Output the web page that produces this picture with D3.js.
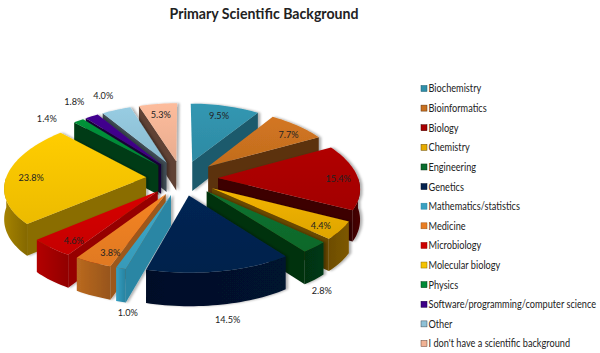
<!DOCTYPE html>
<html>
<head>
<meta charset="utf-8">
<script src="https://cdn.jsdelivr.net/npm/d3@7"></script>
<style>
  body { margin: 0; background: #fff; }
  text { font-family: Lato, "Open Sans", sans-serif; fill: #222; }
</style>
</head>
<body>
<div id="container"></div>
<script>
/* DATA */
const categories = ["Biochemistry", "Bioinformatics", "Biology", "Chemistry", "Engineering", "Genetics",
  "Mathematics/statistics", "Medicine", "Microbiology", "Molecular biology", "Physics",
  "Software/programming/computer science", "Other", "I don't have a scientific background"]
const percents = [9.5, 7.7, 15.4, 4.4, 2.8, 14.5, 1.0, 3.8, 4.6, 23.8, 1.4, 1.8, 4.0, 5.3]

/* COLOURS */
const topColors = ["#2f8fa9", "#c8701f", "#a80000", "#e6ab00", "#0a6c2d", "#04234f", "#39a0c0",
  "#e87d22", "#cc0000", "#f5c200", "#008a36", "#3f0088", "#8fc1d6", "#f0b294"]
const wallColors = ["#1c5a6c", "#5c3310", "#3c0000", "#694a00", "#003010", "#020f27", "#2a86a4",
  "#9c581b", "#960000", "#8a6d00", "#003a12", "#1b0040", "#3f4d57", "#604336"]

// where each percent label sits: fraction of the radius, then a pixel nudge
const labelRadius = [0.72, 0.78, 0.86, 0.88, 1.12, 1.16, 1.18, 0.62, 0.62, 0.82, 1.34, 1.34, 1.2, 0.7]
const labelDx = [2, 9, 0, -3, -7, 2, 17, -12, -20, -1, -9, 2, -5, -2]
const labelDy = [-5, 0, 1, 0, 36, 35, 30, 17, 15, 2, 11, 0, -5, -5]

/* LAYOUT */
const width = 600, height = 353
const cx = 182, cy = 178
const R = 140, explode = 36, depth = 30
const tilt = 0.483, perspX = 0.14, perspY = 0.094
const labelSqueeze = 0.915, legendSqueeze = 0.875 // Lato runs wider than the reference's face

const svg = d3.select('#container').append('svg')
  .attr('width', width)
  .attr('height', height)

const defs = svg.append('defs')
const shadow = defs.append('filter').attr('id', 'shadow')
  .attr('x', '-10%').attr('y', '-10%').attr('width', '125%').attr('height', '125%')
shadow.append('feDropShadow')
  .attr('dx', 2.5).attr('dy', 0).attr('stdDeviation', 1.2)
  .attr('flood-color', '#000').attr('flood-opacity', 0.3)

svg.append('text')
  .attr('x', 264)
  .attr('y', 19)
  .attr('text-anchor', 'middle')
  .attr('font-size', 16)
  .attr('font-weight', 700)
  .attr('textLength', 189)
  .attr('lengthAdjust', 'spacingAndGlyphs')
  .text('Primary Scientific Background')

/* PIE */
const slices = d3.pie().sort(null).value(d => d)(percents)
  .map((s, i) => ({ ...s, i, mid: (s.startAngle + s.endAngle) / 2 }))

// ground plane to screen. angle 0 is far away (up), clockwise
function project(slice, r, a, drop = 0) {
  const gx = explode * Math.sin(slice.mid) + r * Math.sin(a)
  const gy = -explode * Math.cos(slice.mid) - r * Math.cos(a)
  const sx = 1 + perspX * gy / R
  const sy = 1 + perspY * gy / R
  return [cx + gx * sx, cy + tilt * gy * sy + drop * sy]
}

const line = d3.line()

function arcPoints(slice, a0, a1, drop = 0) {
  const n = Math.max(2, Math.ceil((a1 - a0) / 0.03))
  return d3.range(n + 1).map(k => project(slice, R, a0 + (a1 - a0) * k / n, drop))
}

const order = slices.slice().sort((a, b) => d3.ascending(-Math.cos(a.mid), -Math.cos(b.mid)))

order.forEach(d => {
  const g = svg.append('g').attr('filter', 'url(#shadow)')
  const wall = wallColors[d.i]

  // radial walls, only when they face the viewer
  const walls = [[d.startAngle, d.startAngle - Math.PI / 2], [d.endAngle, d.endAngle + Math.PI / 2]]
  walls.forEach(([a, normal]) => {
    if (-Math.cos(normal) <= 0.001) return
    const quad = [project(d, 0, a), project(d, R, a), project(d, R, a, depth), project(d, 0, a, depth)]
    g.append('path').attr('d', line(quad) + 'Z').attr('fill', wall)
  })

  // outer wall is the part of the rim on the near side
  const a0 = Math.max(d.startAngle, Math.PI / 2)
  const a1 = Math.min(d.endAngle, Math.PI * 1.5)
  if (a1 > a0) {
    const gradId = 'rim' + d.i
    const grad = defs.append('linearGradient').attr('id', gradId)
    const dir = d.mid > Math.PI
    grad.append('stop').attr('offset', 0).attr('stop-color', dir ? d3.color(wall).brighter(0.5) : d3.color(wall).brighter(0.1))
    grad.append('stop').attr('offset', 1).attr('stop-color', dir ? d3.color(wall).darker(0.1) : d3.color(wall).brighter(0.5))
    const rim = arcPoints(d, a0, a1).concat(arcPoints(d, a0, a1, depth).reverse())
    g.append('path').attr('d', line(rim) + 'Z').attr('fill', `url(#${gradId})`)
  }

  // top face
  const topId = 'top' + d.i
  const topGrad = defs.append('linearGradient').attr('id', topId)
    .attr('x1', 0).attr('y1', 0).attr('x2', 0).attr('y2', 1)
  topGrad.append('stop').attr('offset', 0).attr('stop-color', d3.color(topColors[d.i]).brighter(0.15))
  topGrad.append('stop').attr('offset', 1).attr('stop-color', d3.color(topColors[d.i]).darker(0.1))
  const face = [project(d, 0, d.mid)].concat(arcPoints(d, d.startAngle, d.endAngle))
  g.append('path').attr('d', line(face) + 'Z').attr('fill', `url(#${topId})`)
})

/* LABELS */
svg.append('g').selectAll('text')
  .data(slices)
  .join('text')
  .attr('font-size', 10)
  .attr('text-anchor', 'middle')
  .attr('dy', '0.35em')
  .attr('transform', d => {
    const p = project(d, R * labelRadius[d.i], d.mid)
    return `translate(${p[0] + labelDx[d.i]},${p[1] + labelDy[d.i]}) scale(${labelSqueeze},1)`
  })
  .text(d => d3.format('.1f')(percents[d.i]) + '%')

/* LEGEND */
const legendY = d3.scalePoint().domain(categories).range([89, 344])
const legend = svg.append('g').selectAll('g')
  .data(categories)
  .join('g')
  .attr('transform', d => `translate(421,${legendY(d)})`)

legend.append('rect')
  .attr('x', 0).attr('y', -3.5).attr('width', 6).attr('height', 6)
  .attr('fill', (d, i) => topColors[i])
  .attr('stroke', (d, i) => wallColors[i])
  .attr('stroke-width', 0.5)

legend.append('text')
  .attr('transform', `translate(7.5,0) scale(${legendSqueeze},1)`)
  .attr('dy', '0.33em')
  .attr('font-size', 10.5)
  .text(d => d)
</script>
</body>
</html>
